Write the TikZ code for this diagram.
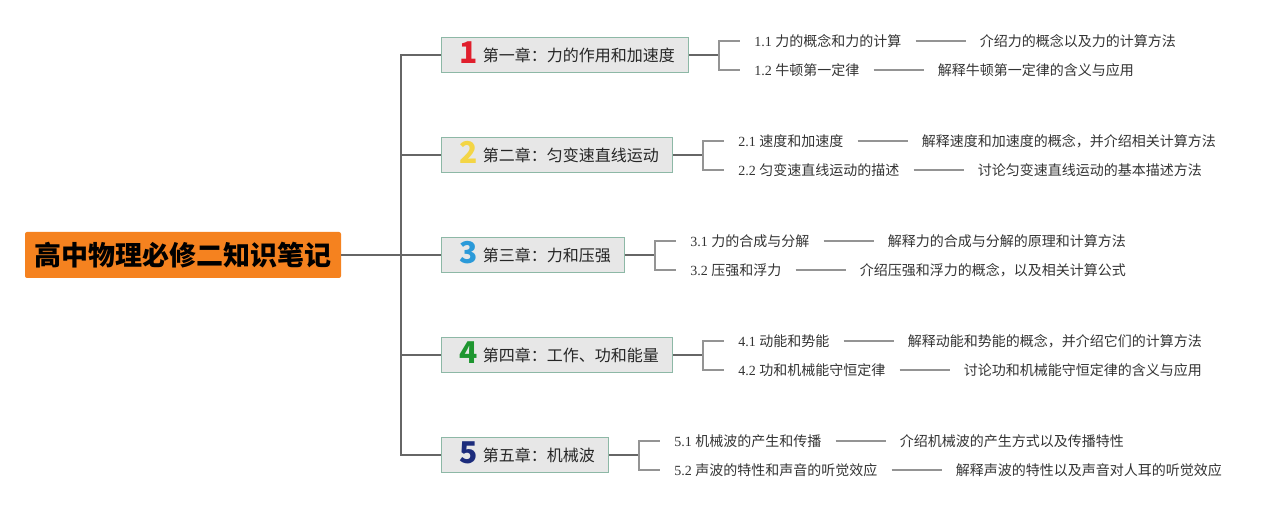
\documentclass[tikz,border=0pt]{standalone}
\usepackage{fontspec}
\setmainfont{Liberation Serif}
\newfontfamily\cjk{Noto Sans CJK SC}
\usetikzlibrary{positioning}

\definecolor{rootorange}{HTML}{F5821F}
\definecolor{boxgray}{HTML}{E7E7E7}
\definecolor{boxedge}{HTML}{8DB8A6}
\definecolor{num1}{HTML}{E01F2D}
\definecolor{num2}{HTML}{F3D545}
\definecolor{num3}{HTML}{2B9AD9}
\definecolor{num4}{HTML}{1E9630}
\definecolor{num5}{HTML}{1C2C7C}

\tikzset{
    root/.style={fill=rootorange, rounded corners=2pt, minimum width=316pt, minimum height=46pt,
        font=\cjk\bfseries\fontsize{27}{27}\selectfont},
    chapter/.style={draw=boxedge, fill=boxgray, line width=1pt, anchor=west, minimum height=35pt,
        inner xsep=14pt, font=\cjk\fontsize{16}{16}\selectfont, text=black!85},
    leaf/.style={anchor=west, inner xsep=14pt, text height=12.5pt, text depth=2pt,
        font=\fontsize{14}{14}\selectfont, text=black!80},
    desc/.style={leaf, font=\cjk\fontsize{14}{14}\selectfont},
    trunk/.style={draw=black!60, line width=1.6pt},
    twig/.style={draw=black!42, line width=1.6pt},
}

\begin{document}
\begin{tikzpicture}[x=1pt, y=1pt]
    \useasboundingbox (0,0) rectangle (1284,510);

    \node[root] (root) at (183,255) {高中物理必修二知识笔记};

    % chapters
    \foreach \n/\y/\title in {1/455/第一章：力的作用和加速度, 2/355/第二章：匀变速直线运动,
            3/255/第三章：力和压强, 4/155/第四章：工作、功和能量, 5/55/第五章：机械波} {
        \node[chapter] (ch\n) at (441,\y) {\hspace*{4pt}\smash{\raisebox{-2.5pt}{\bfseries\fontsize{30}{30}\selectfont\color{num\n}\n}}\hspace{5pt}\title};
        \draw[trunk] (root.east) -- ++(60,0) |- (ch\n.west);
        \draw[trunk] (ch\n.east) -- ++(30,0);
    }

    % sections and their notes
    \foreach \n/\m/\dy/\lab/\txt in {
            1/1/14/力的概念和力的计算/介绍力的概念以及力的计算方法,
            1/2/-15/牛顿第一定律/解释牛顿第一定律的含义与应用,
            2/1/14/速度和加速度/解释速度和加速度的概念，并介绍相关计算方法,
            2/2/-15/匀变速直线运动的描述/讨论匀变速直线运动的基本描述方法,
            3/1/14/力的合成与分解/解释力的合成与分解的原理和计算方法,
            3/2/-15/压强和浮力/介绍压强和浮力的概念，以及相关计算公式,
            4/1/14/动能和势能/解释动能和势能的概念，并介绍它们的计算方法,
            4/2/-15/功和机械能守恒定律/讨论功和机械能守恒定律的含义与应用,
            5/1/14/机械波的产生和传播/介绍机械波的产生方式以及传播特性,
            5/2/-15/声波的特性和声音的听觉效应/解释声波的特性以及声音对人耳的听觉效应} {
        \node[leaf] (l\n\m) at ([xshift=51pt, yshift=\dy pt]ch\n.east) {\n.\m\ {\cjk\lab}};
        \node[desc, right=50pt of l\n\m] (d\n\m) {\txt};
        \draw[twig] ([xshift=30pt]ch\n.east) |- (l\n\m.west);
        \draw[twig] (l\n\m) -- (d\n\m);
    }
\end{tikzpicture}
\end{document}
